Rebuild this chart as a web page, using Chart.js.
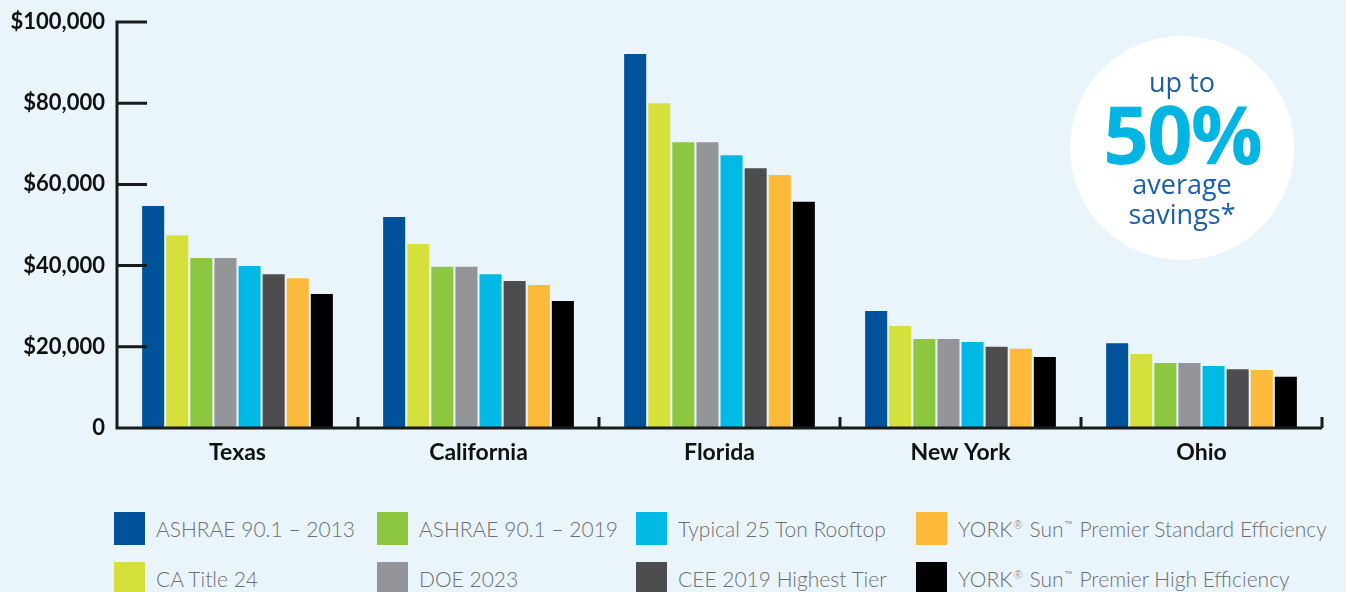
<!DOCTYPE html>
<html>
<head>
<meta charset="utf-8">
<script src="https://cdn.jsdelivr.net/npm/chart.js@4.4.1/dist/chart.umd.min.js"></script>
<style>
    html, body { margin: 0; padding: 0; }
    body { width: 1346px; height: 592px; overflow: hidden; background: #eaf5fb; position: relative; font-family: Lato, sans-serif; }
    #costChart { position: absolute; left: 0; top: 0; }
    .badge {
        position: absolute; left: 1070px; top: 36px; width: 224px; height: 224px;
        border-radius: 50%; background: #fff; text-align: center; font-family: "Open Sans", sans-serif;
    }
    .badge .small { color: #1b5fa9; font-size: 27px; line-height: 30px; }
    .badge .big { color: #00b5e2; font-size: 80px; font-weight: 700; line-height: 72px; letter-spacing: -2px; }
    #legend { position: absolute; left: 0; top: 0; }
    .item { position: absolute; display: flex; align-items: center; height: 33px; white-space: nowrap; }
    .item .box { width: 31px; height: 33px; margin-right: 11px; }
    .item .txt { color: #6d6e71; font-size: 21px; font-weight: 300; font-family: Lato, sans-serif; }
    .item sup { font-size: 11px; vertical-align: 8px; margin: 0 1px; }
</style>
</head>
<body>
<canvas id="costChart" width="1346" height="480"></canvas>
<div class="badge">
    <div class="small" style="margin-top:31px">up to</div>
    <div class="big">50%</div>
    <div class="small">average</div>
    <div class="small">savings*</div>
</div>
<div id="legend"></div>
<script>
// categories and series
const states = ['Texas', 'California', 'Florida', 'New York', 'Ohio'];
const seriesNames = [
    'ASHRAE 90.1 – 2013',
    'CA Title 24',
    'ASHRAE 90.1 – 2019',
    'DOE 2023',
    'Typical 25 Ton Rooftop',
    'CEE 2019 Highest Tier',
    'YORK® Sun™ Premier Standard Efficiency',
    'YORK® Sun™ Premier High Efficiency'
];
const seriesColors = ['#00529b', '#d6e03d', '#8dc63f', '#939598', '#00b9e4', '#4d4d4f', '#fdb93a', '#000000'];

// annual cost per state, one array per series
const ashrae2013 = [54700, 52000, 92100, 28800, 20900];
const caTitle24 = [47500, 45300, 80000, 25100, 18200];
const ashrae2019 = [41900, 39700, 70400, 21900, 16000];
const doe2023 = [41900, 39700, 70400, 21900, 16000];
const typical25Ton = [39900, 37900, 67200, 21200, 15300];
const cee2019 = [37900, 36200, 64000, 20000, 14500];
const yorkStandard = [36900, 35200, 62300, 19500, 14300];
const yorkHigh = [33000, 31300, 55700, 17500, 12600];
const seriesValues = [ashrae2013, caTitle24, ashrae2019, doe2023, typical25Ton, cee2019, yorkStandard, yorkHigh];

const yTicks = [0, 20000, 40000, 60000, 80000, 100000];

// axis lines with inward ticks
const axisPlugin = {
    id: 'axisLines',
    afterDatasetsDraw(chart) {
        const { ctx, chartArea: a, scales: { x, y } } = chart;
        ctx.save();
        ctx.strokeStyle = '#1a1a1a';
        ctx.lineWidth = 3;
        ctx.beginPath();
        ctx.moveTo(a.left, y.getPixelForValue(yTicks[yTicks.length - 1]) - 1.5);
        ctx.lineTo(a.left, a.bottom);
        ctx.lineTo(a.right, a.bottom);
        yTicks.forEach(v => {
            if (v === 0) return;
            const py = y.getPixelForValue(v);
            ctx.moveTo(a.left, py);
            ctx.lineTo(a.left + 30, py);
        });
        for (let i = 1; i <= states.length; i++) {
            const px = i < states.length
                ? (x.getPixelForValue(i - 1) + x.getPixelForValue(i)) / 2
                : a.right;
            ctx.moveTo(px, a.bottom);
            ctx.lineTo(px, a.bottom - 11);
        }
        ctx.stroke();
        ctx.restore();
    }
};

new Chart(document.getElementById('costChart'), {
    type: 'bar',
    data: {
        labels: states,
        datasets: seriesNames.map((name, i) => ({
            label: name,
            data: seriesValues[i],
            backgroundColor: seriesColors[i],
            borderWidth: 0,
            categoryPercentage: 0.8,
            barPercentage: 0.915
        }))
    },
    options: {
        responsive: false,
        animation: false,
        layout: { padding: { top: 22, right: 24, left: 0, bottom: 0 } },
        plugins: {
            legend: { display: false },
            tooltip: { enabled: false }
        },
        scales: {
            y: {
                min: 0,
                max: 100000,
                afterBuildTicks: s => { s.ticks = yTicks.map(v => ({ value: v })); },
                afterFit: s => { s.width = 117; s.paddingTop = 0; s.paddingBottom = 0; },
                grid: { display: false, drawTicks: false },
                border: { display: false },
                ticks: {
                    padding: 12,
                    color: '#111',
                    font: { family: 'Lato', size: 22, weight: 'bold' },
                    callback: v => v === 0 ? '0' : '$' + v.toLocaleString('en-US')
                }
            },
            x: {
                afterFit: s => { s.height = 52; },
                grid: { display: false, drawTicks: false },
                border: { display: false },
                ticks: {
                    padding: 11,
                    color: '#111',
                    font: { family: 'Lato', size: 23, weight: 'bold' }
                }
            }
        }
    },
    plugins: [axisPlugin]
});

// legend: two rows, filled column by column
const colLeft = [114, 377, 636, 916];
const rowTop = [512, 562];
const legend = document.getElementById('legend');
seriesNames.forEach((name, i) => {
    const item = document.createElement('div');
    item.className = 'item';
    item.style.left = colLeft[Math.floor(i / 2)] + 'px';
    item.style.top = rowTop[i % 2] + 'px';
    const html = name.replace('®', '<sup>®</sup>').replace('™', '<sup>™</sup>');
    item.innerHTML = '<span class="box" style="background:' + seriesColors[i] + '"></span><span class="txt">' + html + '</span>';
    legend.appendChild(item);
});
</script>
</body>
</html>
